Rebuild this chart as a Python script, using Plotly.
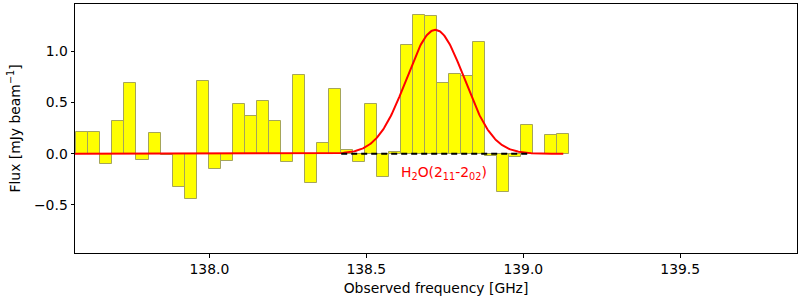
import numpy as np
import plotly.graph_objects as go

# Channel frequencies [GHz] and flux densities [mJy/beam]
freq = [137.5955, 137.6338, 137.6721, 137.7104, 137.7487, 137.7870, 137.8253, 137.8636,
        137.9019, 137.9402, 137.9785, 138.0168, 138.0551, 138.0934, 138.1317, 138.1700,
        138.2083, 138.2466, 138.2849, 138.3232, 138.3615, 138.3998, 138.4381, 138.4764,
        138.5147, 138.5530, 138.5913, 138.6296, 138.6679, 138.7062, 138.7445, 138.7828,
        138.8211, 138.8594, 138.8977, 138.9360, 138.9743, 139.0126, 139.0509, 139.0892,
        139.1275]
flux = [0.212, 0.212, -0.101, 0.319, 0.690, -0.062, 0.202, -0.013,
        -0.326, -0.443, 0.713, -0.150, -0.072, 0.485, 0.368, 0.515,
        0.319, -0.081, 0.769, -0.287, 0.104, 0.632, 0.033, -0.081,
        0.485, -0.228, 0.016, 1.062, 1.355, 1.345, 0.690, 0.779,
        0.759, 1.091, -0.020, -0.375, -0.029, 0.280, 0.0, 0.182,
        0.192]
chan_width = 0.0383

# Gaussian line fit parameters
line_center = 138.720
line_peak = 1.21
line_sigma = 0.092
line_window = 0.3
line_label = "H<sub>2</sub>O(2<sub>11</sub>-2<sub>02</sub>)"

x_range = [137.572, 139.872]
y_range = [-0.971, 1.463]

FONT = "DejaVu Sans"
FS = 13.9

fig = go.Figure()

fig.add_trace(go.Bar(
    x=freq, y=flux, width=chan_width,
    marker=dict(color="#ffff00", line=dict(color="rgb(165,165,90)", width=1)),
    showlegend=False,
))

xm = np.linspace(x_range[0] - 0.05, freq[-1], 600)
ym = line_peak * np.exp(-(xm - line_center) ** 2 / (2 * line_sigma ** 2))
fig.add_trace(go.Scatter(x=xm, y=ym, mode="lines",
                         line=dict(color="red", width=2), showlegend=False))

fig.add_trace(go.Scatter(x=[line_center - line_window, line_center + line_window], y=[0, 0],
                         mode="lines", line=dict(color="black", width=2, dash="6px,4px"),
                         showlegend=False))

fig.add_annotation(x=line_center + 0.026, y=-0.186, text=line_label, showarrow=False,
                   xanchor="center", yanchor="middle",
                   font=dict(color="red", size=FS, family=FONT))

# y-axis title placed as a rotated annotation for precise positioning
fig.add_annotation(xref="paper", yref="paper", x=-0.0845, y=0.5,
                   text="Flux [mJy beam<sup>\u22121</sup>]", textangle=-90,
                   showarrow=False, xanchor="center", yanchor="middle",
                   font=dict(color="black", size=FS, family=FONT))

axis_common = dict(showline=True, linecolor="black", linewidth=1, mirror=True,
                   ticks="outside", ticklen=3.5, tickwidth=1, tickcolor="black",
                   showgrid=False, zeroline=False, automargin=False,
                   tickfont=dict(size=FS, family=FONT, color="black"))

fig.update_xaxes(range=x_range, tickvals=[138.0, 138.5, 139.0, 139.5],
                 ticktext=["138.0", "138.5", "139.0", "139.5"],
                 title=dict(text="Observed frequency [GHz]",
                            font=dict(size=FS, family=FONT, color="black"),
                            standoff=7),
                 **axis_common)
fig.update_yaxes(range=y_range, tickvals=[-0.5, 0.0, 0.5, 1.0],
                 ticktext=["\u22120.5", "0.0", "0.5", "1.0"],
                 **axis_common)

fig.update_layout(width=800, height=300, bargap=0,
                  margin=dict(l=75, r=3, t=4, b=47),
                  plot_bgcolor="white", paper_bgcolor="white")

fig.write_html("out.html", config={"displayModeBar": False},
               post_script="document.body.style.margin='0px';document.body.style.overflow='hidden';")
